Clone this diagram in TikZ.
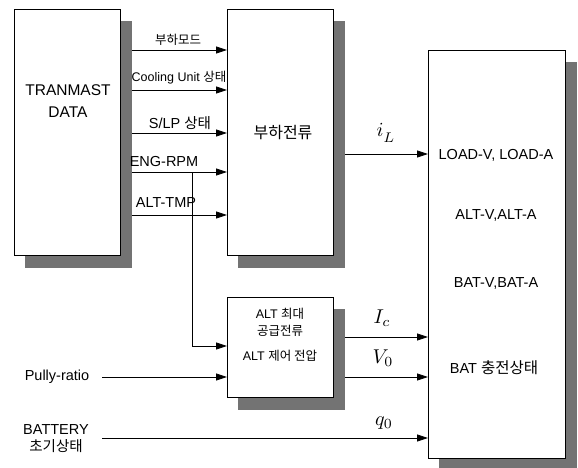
\documentclass[tikz,border=0pt]{standalone}
\usepackage{fontspec}
\setmainfont{Liberation Sans}
\newfontfamily\kr{Noto Sans CJK KR}
\usetikzlibrary{arrows.meta,calc}
\pgfdeclarelayer{lines}
\pgfdeclarelayer{shade}
\pgfsetlayers{lines,shade,main}
\newcommand\mkshadow[1]{\begin{pgfonlayer}{shade}\fill[black!55] ($(#1.north west)+(11,12)$) rectangle ($(#1.south east)+(11,12)$);\end{pgfonlayer}}
\newcommand\bigmath[1]{\scalebox{2}{$#1$}}
\begin{document}
\begin{tikzpicture}[x=1pt,y=-1pt,
  box/.style={draw, line width=0.8pt, fill=white, anchor=north west, inner sep=0pt},
  conn/.style={line width=0.8pt, -{Triangle[length=11pt,width=7pt]}},
  lbl/.style={font=\fontsize{14.5}{17}\selectfont, inner sep=0pt},
  slbl/.style={font=\fontsize{12.5}{14}\selectfont, inner sep=0pt},
  mlbl/.style={inner sep=0pt}]
\useasboundingbox (0,0) rectangle (578,468);
% boxes
\node[box, minimum width=106pt, minimum height=246pt] (tm) at (14,9) {};
\node[box, minimum width=106pt, minimum height=246pt] (lc) at (227,9) {};
\node[box, minimum width=106pt, minimum height=100pt] (alt) at (227,297) {};
\node[box, minimum width=137pt, minimum height=408pt] (rb) at (428,50) {};
\mkshadow{tm}\mkshadow{lc}\mkshadow{alt}\mkshadow{rb}
% box texts
\node[lbl, align=center, font=\fontsize{15.5}{22}\selectfont] (tmt) at (68,101) {TRANMAST\\DATA};
\node[lbl, font=\fontsize{16}{18}\selectfont] (lct) at (283,133) {\kr 부하전류};
\node[slbl] (alt1) at (280,314) {ALT {\kr 최대}};
\node[slbl] (alt2) at (280,331) {\kr 공급전류};
\node[slbl] (alt3) at (280,356) {ALT {\kr 제어 전압}};
\node[lbl] (r1) at (496,155) {LOAD-V, LOAD-A};
\node[lbl] (r2) at (496,215) {ALT-V,ALT-A};
\node[lbl] (r3) at (496,283) {BAT-V,BAT-A};
\node[lbl] (r4) at (494,368) {BAT {\kr\fontsize{15.5}{17}\selectfont 충전상태}};
% inputs
\node[lbl] (pr) at (57,377) {Pully-ratio};
\node[lbl, align=center] (bat) at (56,439) {BATTERY\\{\kr 초기상태}};
\coordinate (prs) at (102,377);
\coordinate (bats) at (102,438);
% arrow labels
\node[slbl] (l1) at (178,40) {\kr 부하모드};
\node[slbl] (l2) at (179,78) {Cooling Unit {\kr 상태}};
\node[lbl] (l3) at (180,123) {S/LP {\kr 상태}};
\node[lbl] (l4) at (164,162) {ENG-RPM};
\node[lbl] (l5) at (166,203) {ALT-TMP};
\node[mlbl] (m1) at (386,133) {\bigmath{i_{\raisebox{-1.5pt}{$\scriptstyle L$}}}};
\node[mlbl] (m2) at (382,318) {\bigmath{I_c}};
\node[mlbl] (m3) at (383,358) {\bigmath{V_0}};
\node[mlbl] (m4) at (384,423) {\bigmath{q_0}};
\coordinate (br) at (192,172);
\begin{pgfonlayer}{lines}
\foreach \yy in {50,90,133,172,215}
  \draw[conn] (tm.east |- 0,\yy) -- (lc.west |- 0,\yy);
\draw[conn] (br) |- (alt.west |- 0,346);
\draw[conn] (lc.east |- 0,154) -- (rb.west |- 0,154);
\draw[conn] (alt.east |- 0,337) -- (rb.west |- 0,337);
\draw[conn] (alt.east |- 0,377) -- (rb.west |- 0,377);
\draw[conn] (prs) -- (alt.west |- prs);
\draw[conn] (bats) -- (rb.west |- bats);
\end{pgfonlayer}
\end{tikzpicture}
\end{document}
